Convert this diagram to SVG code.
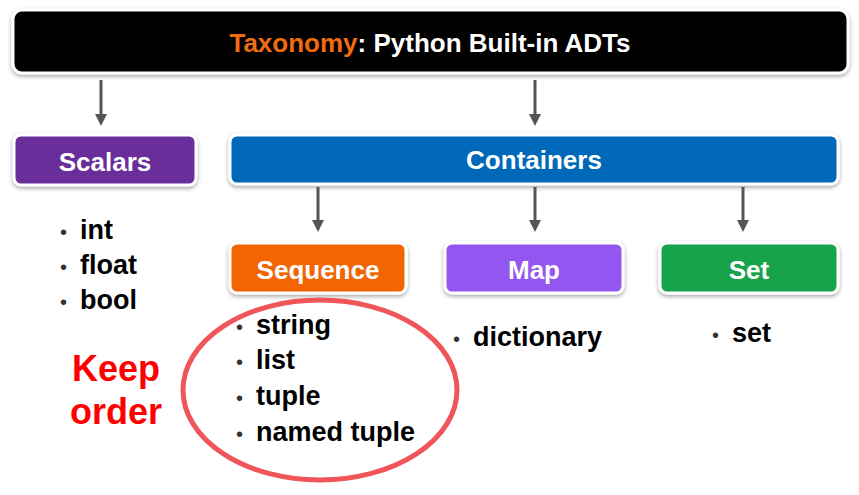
<svg xmlns="http://www.w3.org/2000/svg" width="859" height="495" viewBox="0 0 859 495">
<defs>
<marker id="ah" markerWidth="4" markerHeight="4" refX="2" refY="2" orient="auto" markerUnits="strokeWidth"><path d="M0,0 L4,2 L0,4 Z" fill="#555"/></marker>
<filter id="sh" x="-5%" y="-20%" width="110%" height="150%"><feDropShadow dx="0" dy="2" stdDeviation="2" flood-color="#000" flood-opacity="0.35"/></filter>
</defs>
<style>
.box{stroke:#fff;stroke-width:3;filter:url(#sh)}
.lbl{font-family:"Liberation Sans",Arial,sans-serif;font-weight:bold;fill:#fff;text-anchor:middle}
.it{font-family:"Liberation Sans",Arial,sans-serif;font-weight:bold;font-size:27px;fill:#000}
.bul{font-family:"Liberation Sans",Arial,sans-serif;font-size:20px;fill:#333}
.con line{stroke:#555;stroke-width:3;marker-end:url(#ah)}
</style>
<rect width="859" height="495" fill="#fff"/>
<g id="title"><rect class="box" x="13" y="10" width="835" height="63" rx="9" fill="#000"/>
<text class="lbl" x="430" y="52" font-size="26"><tspan fill="#f26b0f">Taxonomy</tspan>: Python Built-in ADTs</text></g>
<g id="scalars"><rect class="box" x="14" y="135" width="182" height="50" rx="7" fill="#6b2e9b"/><text class="lbl" x="105" y="171" font-size="26">Scalars</text></g>
<g id="containers"><rect class="box" x="230" y="135" width="608" height="49" rx="7" fill="#0068b8"/><text class="lbl" x="534" y="169" font-size="26">Containers</text></g>
<g id="sequence"><rect class="box" x="230" y="243" width="176" height="50" rx="7" fill="#f26500"/><text class="lbl" x="318" y="279" font-size="26">Sequence</text></g>
<g id="map"><rect class="box" x="445" y="243" width="178" height="50" rx="7" fill="#9457f0"/><text class="lbl" x="534" y="279" font-size="26">Map</text></g>
<g id="set"><rect class="box" x="660" y="243" width="178" height="50" rx="7" fill="#16a34a"/><text class="lbl" x="749" y="279" font-size="26">Set</text></g>
<g class="con" id="connectors">
<line x1="101" y1="80" x2="101" y2="120"/>
<line x1="535" y1="80" x2="535" y2="120"/>
<line x1="318" y1="187" x2="318" y2="226"/>
<line x1="535" y1="187" x2="535" y2="226"/>
<line x1="743" y1="187" x2="743" y2="226"/>
</g>
<g id="scalar-items">
<text x="60" y="239" class="bul">•</text><text x="80" y="239" class="it">int</text>
<text x="60" y="274" class="bul">•</text><text x="80" y="274" class="it">float</text>
<text x="60" y="309" class="bul">•</text><text x="80" y="309" class="it">bool</text>
</g>
<g id="seq-items">
<text x="236" y="334" class="bul">•</text><text x="256" y="334" class="it">string</text>
<text x="236" y="369" class="bul">•</text><text x="256" y="369" class="it">list</text>
<text x="236" y="405" class="bul">•</text><text x="256" y="405" class="it">tuple</text>
<text x="236" y="441" class="bul">•</text><text x="256" y="441" class="it">named tuple</text>
</g>
<g id="map-items"><text x="453" y="346" class="bul">•</text><text x="473" y="346" class="it">dictionary</text></g>
<g id="set-items"><text x="712" y="342" class="bul">•</text><text x="732" y="342" class="it">set</text></g>
<ellipse cx="320" cy="390" rx="137" ry="90" fill="none" stroke="#f0555a" stroke-width="5"/>
<text font-family="Liberation Sans,Arial,sans-serif" font-weight="bold" font-size="36" fill="#f00" text-anchor="middle"><tspan x="116" y="381">Keep</tspan><tspan x="116" y="424">order</tspan></text>
</svg>
